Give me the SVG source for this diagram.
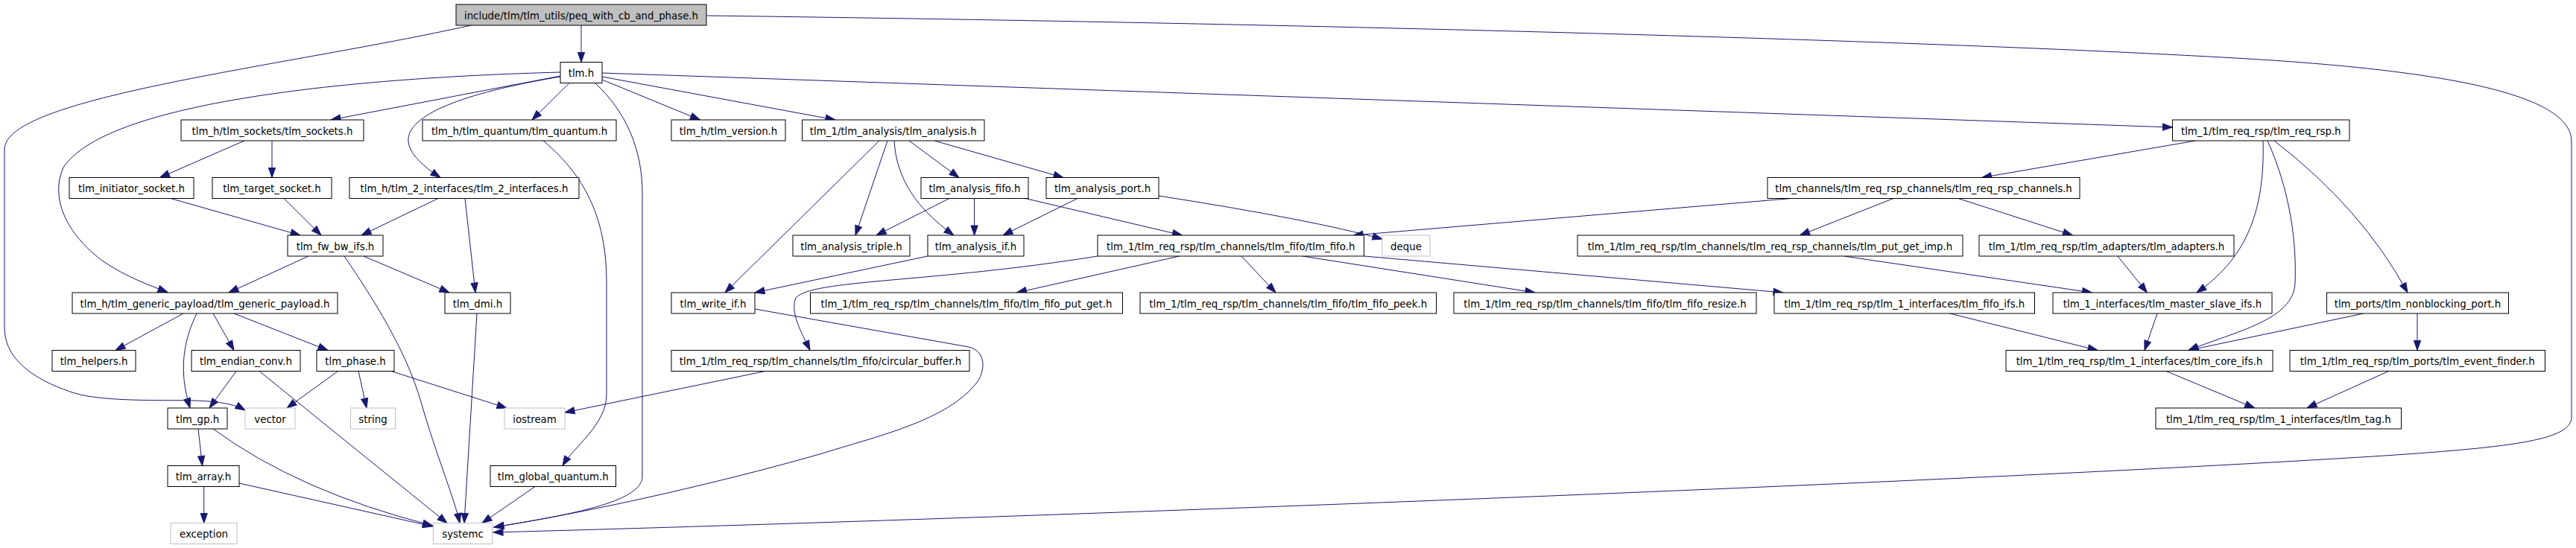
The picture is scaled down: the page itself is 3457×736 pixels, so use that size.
<svg xmlns="http://www.w3.org/2000/svg" width="3457" height="736" viewBox="0 0 3457 736">
<style>
.node rect{fill:#ffffff;stroke:#000000;stroke-width:1}
.node.root rect{fill:#bfbfbf}
.node.ext rect{stroke:#bfbfbf}
.node text{font-family:"DejaVu Sans","Liberation Sans",sans-serif;font-size:13.33px;fill:#000000;text-anchor:middle}
.edges path{fill:none;stroke:#191970;stroke-width:1;marker-end:url(#arr)}
</style>
<defs>
<marker id="arr" markerUnits="userSpaceOnUse" markerWidth="16" markerHeight="12" refX="13" refY="5" orient="auto" viewBox="-1 -1 16 12" overflow="visible">
<path d="M0,0.4 L13,5 L0,9.6 z" fill="#191970" stroke="#191970" stroke-width="1"/>
</marker>
</defs>
<rect width="3457" height="736" fill="#ffffff"/>
<g id="edges" class="edges">
<path d="M780,34 L780,83.5"/>
<path d="M632,34 C 380,90 8,130 6,200 L 6,440 C 6,490 60,515 100,528 C 140,540 220,537 260,538 C 295,539 315,543 329,551"/>
<path d="M948,21 C 1800,32 2600,55 3000,78 C 3300,95 3451,130 3451,190 L 3451,560 C 3451,590 3380,600 3200,612 C 2600,650 1300,698 662,715"/>
<path d="M752,102 L444,161"/>
<path d="M752,103 C 620,125 545,155 548,190 C 550,210 575,228 591,238.5"/>
<path d="M752,97 C 450,105 140,140 85,225 C 65,270 95,320 140,352 C 170,372 200,383 225,392.5"/>
<path d="M763.5,112 L714,161"/>
<path d="M808,107 L939.5,161"/>
<path d="M808,103 L1121,161"/>
<path d="M808,98 L2915.5,171"/>
<path d="M799,112 C 840,150 862,200 862,260 L 862,640 C 862,675 760,692 663,708"/>
<path d="M328,189 L214.5,238.5"/>
<path d="M365,189 L365,238.5"/>
<path d="M229,266.5 L403,316"/>
<path d="M381,266.5 L431,316"/>
<path d="M588,266.5 L485,316"/>
<path d="M624,266.5 L638,393"/>
<path d="M729,189 C 790,240 814,300 814,380 L 814,530 C 814,570 770,600 755,625.5"/>
<path d="M414,344 L307,393"/>
<path d="M462,344 C 500,400 545,470 565,540 C 585,610 610,670 617,702.5"/>
<path d="M488,344 L603,393"/>
<path d="M640,421 L623,702.5"/>
<path d="M246,421 L155,470.5"/>
<path d="M264,421 C 245,460 240,500 255,548"/>
<path d="M286,421 L314,470.5"/>
<path d="M314,421 L440,470.5"/>
<path d="M317,498.5 L281,548"/>
<path d="M348,498.5 L600,702.5"/>
<path d="M453.5,498.5 L385,548"/>
<path d="M481,498.5 L492,548"/>
<path d="M525,498.5 L680,548"/>
<path d="M266,576 L271.5,625.5"/>
<path d="M286,576 Q 400,660 580.5,706"/>
<path d="M273.7,653.5 L273.7,702.5"/>
<path d="M321,649 L580.5,707"/>
<path d="M718,653.5 L647,702.5"/>
<path d="M1180,189 L973,393"/>
<path d="M1191,189 L1148,316"/>
<path d="M1200,189 C 1203,240 1230,280 1280,316"/>
<path d="M1220,189 L1287,238.5"/>
<path d="M1254,189 L1427,238.5"/>
<path d="M1274,266.5 L1176,316"/>
<path d="M1307.6,266.5 L1307.6,316"/>
<path d="M1376,266.5 L1586.5,316"/>
<path d="M1446,266.5 L1346,316"/>
<path d="M1555,263 Q 1760,295 1855,321"/>
<path d="M2404,266.5 L1816,316"/>
<path d="M1245,344 L1013,393"/>
<path d="M1473,344 C 1250,380 1090,375 1068,400 C 1060,420 1075,445 1087,470.5"/>
<path d="M1583,344 L1364.5,393"/>
<path d="M1666,344 L1712,393"/>
<path d="M1748,344 L2060,393"/>
<path d="M1830.6,344 L2393,393"/>
<path d="M1013,415 L1300,466 C 1325,472 1322,500 1310,515 C 1270,565 1180,585 1100,610 C 960,650 780,690 663,708"/>
<path d="M1027,498.5 L758,554"/>
<path d="M2946.6,189 L2659.5,238.5"/>
<path d="M3037,189 C 3040,290 3010,350 2948,393"/>
<path d="M3043,189 C 3075,260 3082,330 3080,380 C 3078,430 3000,445 2937,470.5"/>
<path d="M3052,189 Q 3170,280 3231,393"/>
<path d="M2541,266.5 L2415.5,316"/>
<path d="M2628,266.5 L2781.5,316"/>
<path d="M2474.6,344 L2807.5,393"/>
<path d="M2842,344 L2881.4,393"/>
<path d="M2616.6,421 L2815,470.5"/>
<path d="M2895,421 L2878,470.5"/>
<path d="M3172,421 L2937,470.5"/>
<path d="M3244,421 L3244,470.5"/>
<path d="M2907,498.5 L3025.7,548"/>
<path d="M3205.5,498.5 L3096,548"/>
</g>
<g id="n_root" class="node root"><rect x="612" y="6" width="336" height="28"/><text x="780" y="25.5">include/tlm/tlm_utils/peq_with_cb_and_phase.h</text></g>
<g id="n_tlm" class="node"><rect x="752" y="83.5" width="56" height="28"/><text x="780" y="103">tlm.h</text></g>
<g id="n_sockets" class="node"><rect x="243" y="161" width="245" height="28"/><text x="365.5" y="180.5">tlm_h/tlm_sockets/tlm_sockets.h</text></g>
<g id="n_quantum" class="node"><rect x="567" y="161" width="260" height="28"/><text x="697" y="180.5">tlm_h/tlm_quantum/tlm_quantum.h</text></g>
<g id="n_version" class="node"><rect x="901" y="161" width="153" height="28"/><text x="977.5" y="180.5">tlm_h/tlm_version.h</text></g>
<g id="n_analysis" class="node"><rect x="1076.5" y="161" width="244.5" height="28"/><text x="1198.75" y="180.5">tlm_1/tlm_analysis/tlm_analysis.h</text></g>
<g id="n_reqrsp" class="node"><rect x="2915.5" y="161" width="237.5" height="28"/><text x="3034.25" y="180.5">tlm_1/tlm_req_rsp/tlm_req_rsp.h</text></g>
<g id="n_init" class="node"><rect x="93" y="238.5" width="167" height="28"/><text x="176.5" y="258">tlm_initiator_socket.h</text></g>
<g id="n_target" class="node"><rect x="285" y="238.5" width="160" height="28"/><text x="365" y="258">tlm_target_socket.h</text></g>
<g id="n_tlm2if" class="node"><rect x="469" y="238.5" width="308" height="28"/><text x="623" y="258">tlm_h/tlm_2_interfaces/tlm_2_interfaces.h</text></g>
<g id="n_afifo" class="node"><rect x="1236" y="238.5" width="144" height="28"/><text x="1308" y="258">tlm_analysis_fifo.h</text></g>
<g id="n_aport" class="node"><rect x="1404" y="238.5" width="151" height="28"/><text x="1479.5" y="258">tlm_analysis_port.h</text></g>
<g id="n_rrch" class="node"><rect x="2372" y="238.5" width="419" height="28"/><text x="2581.5" y="258">tlm_channels/tlm_req_rsp_channels/tlm_req_rsp_channels.h</text></g>
<g id="n_fwbw" class="node"><rect x="386" y="316" width="128" height="28"/><text x="450" y="335.5">tlm_fw_bw_ifs.h</text></g>
<g id="n_triple" class="node"><rect x="1064" y="316" width="157" height="28"/><text x="1142.5" y="335.5">tlm_analysis_triple.h</text></g>
<g id="n_aif" class="node"><rect x="1245" y="316" width="129" height="28"/><text x="1309.5" y="335.5">tlm_analysis_if.h</text></g>
<g id="n_fifo" class="node"><rect x="1473" y="316" width="357.5" height="28"/><text x="1651.75" y="335.5">tlm_1/tlm_req_rsp/tlm_channels/tlm_fifo/tlm_fifo.h</text></g>
<g id="n_deque" class="node ext"><rect x="1855" y="316" width="64" height="28"/><text x="1887" y="335.5">deque</text></g>
<g id="n_pgimp" class="node"><rect x="2117" y="316" width="517" height="28"/><text x="2375.5" y="335.5">tlm_1/tlm_req_rsp/tlm_channels/tlm_req_rsp_channels/tlm_put_get_imp.h</text></g>
<g id="n_adapters" class="node"><rect x="2656" y="316" width="342" height="28"/><text x="2827" y="335.5">tlm_1/tlm_req_rsp/tlm_adapters/tlm_adapters.h</text></g>
<g id="n_gpayload" class="node"><rect x="97" y="393" width="356" height="28"/><text x="275" y="412.5">tlm_h/tlm_generic_payload/tlm_generic_payload.h</text></g>
<g id="n_dmi" class="node"><rect x="597" y="393" width="88" height="28"/><text x="641" y="412.5">tlm_dmi.h</text></g>
<g id="n_writeif" class="node"><rect x="901" y="393" width="112" height="28"/><text x="957" y="412.5">tlm_write_if.h</text></g>
<g id="n_putget" class="node"><rect x="1087.5" y="393" width="419" height="28"/><text x="1297" y="412.5">tlm_1/tlm_req_rsp/tlm_channels/tlm_fifo/tlm_fifo_put_get.h</text></g>
<g id="n_peek" class="node"><rect x="1530" y="393" width="397.5" height="28"/><text x="1728.75" y="412.5">tlm_1/tlm_req_rsp/tlm_channels/tlm_fifo/tlm_fifo_peek.h</text></g>
<g id="n_resize" class="node"><rect x="1951" y="393" width="406" height="28"/><text x="2154" y="412.5">tlm_1/tlm_req_rsp/tlm_channels/tlm_fifo/tlm_fifo_resize.h</text></g>
<g id="n_fifoifs" class="node"><rect x="2381" y="393" width="349.5" height="28"/><text x="2555.75" y="412.5">tlm_1/tlm_req_rsp/tlm_1_interfaces/tlm_fifo_ifs.h</text></g>
<g id="n_msifs" class="node"><rect x="2755" y="393" width="294" height="28"/><text x="2902" y="412.5">tlm_1_interfaces/tlm_master_slave_ifs.h</text></g>
<g id="n_nbport" class="node"><rect x="3122.5" y="393" width="244" height="28"/><text x="3244.5" y="412.5">tlm_ports/tlm_nonblocking_port.h</text></g>
<g id="n_helpers" class="node"><rect x="70" y="470.5" width="112" height="28"/><text x="126" y="490">tlm_helpers.h</text></g>
<g id="n_endian" class="node"><rect x="257" y="470.5" width="146" height="28"/><text x="330" y="490">tlm_endian_conv.h</text></g>
<g id="n_phase" class="node"><rect x="425" y="470.5" width="104" height="28"/><text x="477" y="490">tlm_phase.h</text></g>
<g id="n_cbuf" class="node"><rect x="901" y="470.5" width="400" height="28"/><text x="1101" y="490">tlm_1/tlm_req_rsp/tlm_channels/tlm_fifo/circular_buffer.h</text></g>
<g id="n_coreifs" class="node"><rect x="2692" y="470.5" width="358" height="28"/><text x="2871" y="490">tlm_1/tlm_req_rsp/tlm_1_interfaces/tlm_core_ifs.h</text></g>
<g id="n_evfinder" class="node"><rect x="3073" y="470.5" width="342.5" height="28"/><text x="3244.25" y="490">tlm_1/tlm_req_rsp/tlm_ports/tlm_event_finder.h</text></g>
<g id="n_gp" class="node"><rect x="225" y="548" width="80" height="28"/><text x="265" y="567.5">tlm_gp.h</text></g>
<g id="n_vector" class="node ext"><rect x="329" y="548" width="67" height="28"/><text x="362.5" y="567.5">vector</text></g>
<g id="n_string" class="node ext"><rect x="470.5" y="548" width="60" height="28"/><text x="500.5" y="567.5">string</text></g>
<g id="n_iostream" class="node ext"><rect x="677" y="548" width="81" height="28"/><text x="717.5" y="567.5">iostream</text></g>
<g id="n_tag" class="node"><rect x="2893" y="548" width="329.5" height="28"/><text x="3057.75" y="567.5">tlm_1/tlm_req_rsp/tlm_1_interfaces/tlm_tag.h</text></g>
<g id="n_array" class="node"><rect x="225" y="625.5" width="96" height="28"/><text x="273" y="645">tlm_array.h</text></g>
<g id="n_gquantum" class="node"><rect x="658" y="625.5" width="168.5" height="28"/><text x="742.25" y="645">tlm_global_quantum.h</text></g>
<g id="n_exception" class="node ext"><rect x="229" y="702.5" width="89" height="28"/><text x="273.5" y="722">exception</text></g>
<g id="n_systemc" class="node ext"><rect x="581.5" y="702.5" width="79" height="28"/><text x="621" y="722">systemc</text></g>
</svg>
